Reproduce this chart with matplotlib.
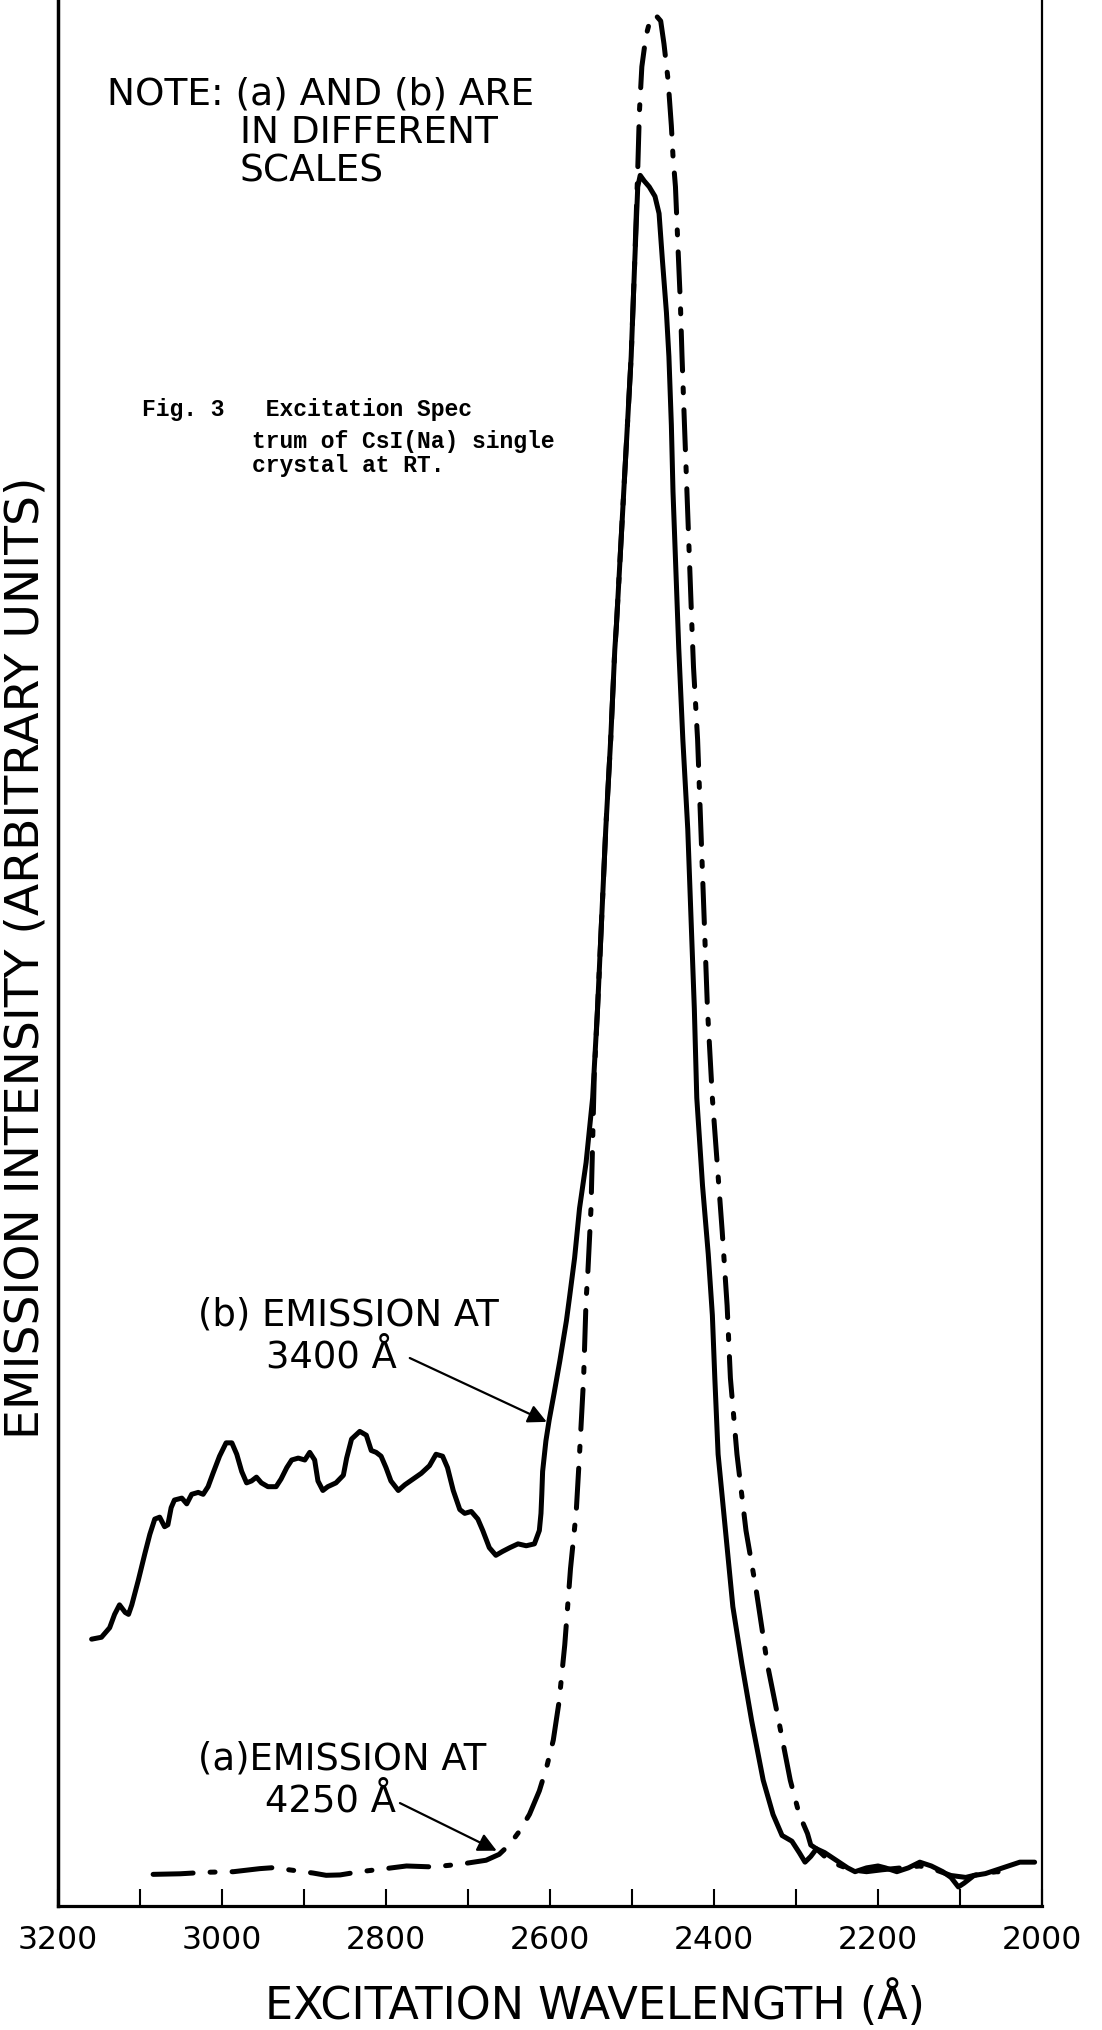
import matplotlib
matplotlib.use("Agg")
import matplotlib.pyplot as plt

# ---------------- data ----------------
# (b) emission at 3400 A  -- solid curve
wl_b = [3159, 3147, 3137, 3131, 3125, 3118, 3114, 3110, 3102, 3094, 3088, 3082,
        3076, 3070, 3066, 3062, 3058, 3049, 3043, 3037, 3029, 3023, 3017, 3011,
        3003, 2995, 2988, 2982, 2976, 2970, 2964, 2958, 2952, 2944, 2934, 2928,
        2921, 2915, 2907, 2899, 2893, 2887, 2883, 2877, 2871, 2861, 2852, 2848,
        2842, 2832, 2824, 2818, 2812, 2806, 2800, 2794, 2785, 2777, 2767, 2757,
        2747, 2739, 2731, 2725, 2718, 2710, 2704, 2696, 2688, 2682, 2674, 2666,
        2658, 2649, 2639, 2629, 2619, 2613, 2611, 2610, 2609, 2605, 2601, 2595,
        2588, 2580, 2576, 2570, 2564, 2556, 2548, 2542, 2537, 2532, 2526, 2521,
        2519, 2513, 2507, 2501, 2497, 2493, 2490, 2485, 2479, 2472, 2467, 2463,
        2458, 2455, 2452, 2450, 2446, 2443, 2438, 2432, 2428, 2424, 2421, 2414,
        2407, 2402, 2399, 2395, 2386, 2377, 2366, 2354, 2340, 2328, 2317, 2305,
        2296, 2289, 2282, 2275, 2265, 2251, 2237, 2228, 2214, 2200, 2191, 2177,
        2163, 2149, 2135, 2121, 2111, 2102, 2095, 2083, 2069, 2055, 2041, 2027,
        2009]
int_b = [14.0, 14.1, 14.6, 15.3, 15.8, 15.4, 15.3, 15.8, 17.1, 18.5, 19.5, 20.3,
         20.4, 19.9, 20.0, 20.9, 21.3, 21.4, 21.1, 21.6, 21.7, 21.6, 22.0, 22.7,
         23.6, 24.3, 24.3, 23.7, 22.8, 22.2, 22.3, 22.5, 22.2, 22.0, 22.0, 22.4,
         23.0, 23.4, 23.5, 23.4, 23.8, 23.4, 22.3, 21.8, 22.0, 22.2, 22.6, 23.5,
         24.5, 24.9, 24.7, 23.9, 23.8, 23.6, 23.0, 22.3, 21.8, 22.1, 22.4, 22.7,
         23.1, 23.7, 23.6, 23.0, 21.8, 20.8, 20.6, 20.7, 20.3, 19.7, 18.8, 18.4,
         18.6, 18.8, 19.0, 18.9, 19.0, 19.7, 20.6, 21.6, 22.8, 24.4, 25.5, 26.9,
         28.6, 30.7, 32.0, 34.0, 36.6, 39.0, 42.4, 47.1, 51.8, 56.5, 61.2, 65.9,
         67.2, 71.9, 76.6, 81.3, 85.9, 90.2, 90.8, 90.5, 90.2, 89.7, 88.8, 86.4,
         83.6, 81.3, 77.7, 74.2, 69.5, 66.0, 61.2, 56.5, 51.8, 47.1, 42.4, 37.8,
         34.2, 31.0, 27.7, 23.7, 19.7, 15.7, 12.7, 9.7, 6.6, 4.8, 3.7, 3.4,
         2.8, 2.3, 2.6, 3.0, 2.8, 2.4, 2.0, 1.8, 2.0, 2.1, 2.0, 1.8,
         2.0, 2.3, 2.1, 1.8, 1.5, 1.0, 1.2, 1.6, 1.7, 1.9, 2.1, 2.3,
         2.3]

# (a) emission at 4250 A  -- dash-dot curve
wl_a = [3084, 3051, 3019, 2986, 2954, 2938, 2913, 2889, 2873, 2856, 2832, 2808,
        2775, 2743, 2710, 2678, 2662, 2649, 2637, 2625, 2613, 2604, 2596, 2589,
        2582, 2575, 2568, 2564, 2559, 2556, 2554, 2550, 2548, 2546, 2542, 2537,
        2532, 2526, 2521, 2519, 2513, 2507, 2501, 2497, 2493, 2491, 2488, 2483,
        2477, 2471, 2465, 2461, 2456, 2452, 2450, 2447, 2444, 2441, 2439, 2436,
        2433, 2430, 2427, 2425, 2420, 2416, 2412, 2408, 2402, 2396, 2390, 2384,
        2380, 2372, 2361, 2349, 2335, 2321, 2307, 2296, 2286, 2282, 2275, 2265,
        2251, 2233, 2214, 2195, 2172, 2149, 2130, 2111, 2093, 2074, 2055, 2035]
int_a = [1.66, 1.69, 1.77, 1.80, 1.96, 2.01, 1.87, 1.73, 1.61, 1.63, 1.80, 1.92,
         2.10, 2.05, 2.19, 2.40, 2.71, 3.24, 3.94, 4.81, 6.04, 7.3, 8.7, 10.7,
         13.7, 17.7, 20.7, 23.7, 27.7, 31.8, 33.1, 36.6, 40.1, 43.6, 47.1, 51.8,
         56.5, 61.2, 65.9, 67.2, 71.9, 76.6, 81.3, 85.9, 91.1, 94.1, 96.5, 98.1,
         99.1, 99.2, 98.9, 97.7, 95.8, 93.4, 91.8, 90.2, 87.1, 84.1, 81.3, 77.7,
         74.2, 70.7, 67.2, 65.0, 61.2, 56.5, 51.8, 47.1, 42.4, 38.9, 35.4, 31.5,
         27.7, 23.7, 19.7, 16.7, 12.7, 9.7, 6.6, 4.8, 3.8, 3.2, 3.0, 2.6,
         2.2, 1.9, 1.8, 1.9, 2.0, 2.1, 1.9, 1.6, 1.5, 1.7, 1.8, 1.7]

major_ticks = [3200, 3000, 2800, 2600, 2400, 2200, 2000]
minor_ticks = [3100, 2900, 2700, 2500, 2300, 2100]
tick_labels = ["3200", "3000", "2800", "2600", "2400", "2200", "2000"]

# ---------------- figure ----------------
W, H = 1102, 2030
plt.rcParams['font.family'] = ['DejaVu Sans']
fig = plt.figure(figsize=(W / 100, H / 100), dpi=100)
fig.patch.set_facecolor('white')


def fx(p):
    return p / W


def fy(p):
    return 1 - p / H


ax = fig.add_axes([fx(58), fy(1906), fx(1042) - fx(58), 1906 / H])
ax.set_facecolor('white')

ax.plot(wl_b, int_b, color='black', lw=3.6, solid_joinstyle='round',
        solid_capstyle='round', zorder=3)
ax.plot(wl_a, int_a, color='black', lw=3.6, linestyle=(0, (8, 3.4, 1, 3.4)),
        dash_capstyle='round', dash_joinstyle='round', zorder=3)

ax.set_xlim(3200, 2000)
ax.set_ylim(0, 100)

ax.spines['top'].set_visible(False)
ax.spines['left'].set_linewidth(2.5)
ax.spines['bottom'].set_linewidth(2.3)
ax.spines['right'].set_linewidth(1.6)

ax.set_xticks(major_ticks)
ax.set_xticklabels(tick_labels)
ax.set_xticks(minor_ticks, minor=True)
ax.tick_params(axis='x', which='both', direction='in', length=12, width=1.5,
               top=False)
ax.tick_params(axis='x', which='major', labelsize=22.7, pad=14)
ax.set_yticks([])

# axis labels
fig.text(fx(595), fy(2019), "EXCITATION WAVELENGTH (Å)", ha='center',
         va='baseline', fontsize=32)
fig.text(fx(26), fy(958), "EMISSION INTENSITY (ARBITRARY UNITS)", rotation=90,
         ha='center', va='center', fontsize=34)

# note
fig.text(fx(107), fy(105), "NOTE: (a) AND (b) ARE", ha='left', va='baseline',
         fontsize=27)
fig.text(fx(240), fy(143), "IN DIFFERENT", ha='left', va='baseline',
         fontsize=27)
fig.text(fx(240), fy(182), "SCALES", ha='left', va='baseline', fontsize=27)

# caption (typewriter)
cap_font = dict(family=['Liberation Mono', 'DejaVu Sans Mono'],
                fontweight='bold', fontsize=16.6, ha='left', va='baseline')
fig.text(fx(142), fy(416), "Fig. 3   Excitation Spec", **cap_font)
fig.text(fx(142), fy(448), "        trum of CsI(Na) single", **cap_font)
fig.text(fx(142), fy(472), "        crystal at RT.", **cap_font)

# annotations
fig.text(fx(198), fy(1325), "(b) EMISSION AT", ha='left', va='baseline',
         fontsize=26.6)
fig.text(fx(266), fy(1368), "3400 Å", ha='left', va='baseline', fontsize=26.6)
fig.text(fx(198), fy(1770), "(a)EMISSION AT", ha='left', va='baseline',
         fontsize=26.6)
fig.text(fx(265), fy(1812), "4250 Å", ha='left', va='baseline', fontsize=26.6)

arrow = dict(arrowstyle='-|>', lw=1.6, color='black', mutation_scale=28,
             shrinkA=0, shrinkB=0)
ax.annotate("", xy=(2604, 25.4), xytext=(2771, 28.75), xycoords='data',
            textcoords='data', arrowprops=arrow)
ax.annotate("", xy=(2665, 2.9), xytext=(2783, 5.4), xycoords='data',
            textcoords='data', arrowprops=arrow)

fig.savefig("out.png", dpi=100, facecolor='white')
